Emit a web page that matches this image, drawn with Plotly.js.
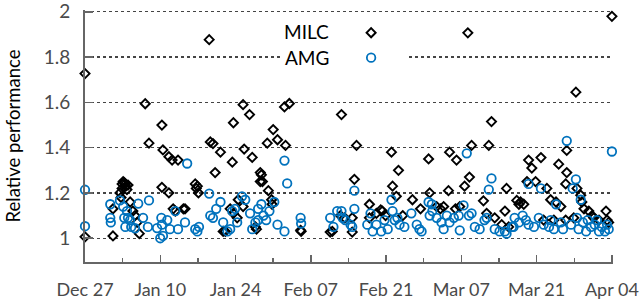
<!DOCTYPE html>
<html>
<head>
<meta charset="utf-8">
<script src="https://cdn.plot.ly/plotly-3.0.1.min.js"></script>
<style>html,body{margin:0;padding:0;background:#fff;}#chart{width:640px;height:299px;}</style>
</head>
<body>
<div id="chart"></div>
<script>
// Days since Dec 27 and relative performance values
var milcDays = [0.0,0.0,5.2,5.2,6.5,6.7,6.9,7.1,7.3,7.5,7.6,8.0,7.8,6.9,8.4,9.3,9.7,10.1,8.9,11.2,11.9,14.3,14.5,14.3,15.6,15.6,16.2,17.3,16.4,16.8,18.3,18.6,20.5,20.9,21.1,20.7,23.1,23.3,23.8,25.2,24.2,27.6,29.4,30.6,29.6,31.1,27.4,27.0,27.6,28.3,28.5,29.4,25.7,26.1,32.6,32.6,31.7,31.9,33.9,35.0,35.8,37.3,37.1,38.0,32.8,33.0,34.1,34.7,34.8,40.1,40.2,45.6,46.0,47.7,47.5,48.3,50.5,50.1,49.7,49.7,52.9,52.9,54.2,55.0,55.3,55.9,57.0,58.3,57.2,57.9,59.1,60.9,62.4,63.9,64.1,65.4,66.1,66.7,67.6,67.8,69.1,68.9,69.7,70.6,71.5,71.2,71.9,75.1,75.6,74.1,74.7,76.2,78.1,78.4,77.5,78.8,80.3,80.7,81.0,81.6,82.5,83.1,84.8,82.2,83.8,85.9,86.6,87.6,88.5,88.1,89.6,89.6,89.4,91.3,91.5,92.2,92.4,92.8,93.7,94.3,96.9,98.0,85.3,87.2,89.4,90.9,94.6,95.6,97.1,97.4];
var milcVals = [1.727,1.006,1.13,1.01,1.20,1.18,1.24,1.25,1.245,1.24,1.23,1.235,1.215,1.22,1.16,1.10,1.07,1.02,1.12,1.594,1.42,1.50,1.39,1.225,1.20,1.36,1.345,1.345,1.13,1.12,1.13,1.13,1.24,1.23,1.20,1.22,1.877,1.425,1.418,1.38,1.29,1.51,1.59,1.546,1.394,1.357,1.336,1.13,1.11,1.09,1.17,1.14,1.03,1.03,1.29,1.25,1.05,1.04,1.42,1.48,1.435,1.41,1.58,1.595,1.28,1.25,1.21,1.17,1.15,1.035,1.03,1.027,1.03,1.546,1.10,1.09,1.41,1.26,1.027,1.09,1.15,1.09,1.11,1.125,1.12,1.10,1.38,1.30,1.23,1.185,1.10,1.17,1.13,1.35,1.20,1.14,1.13,1.14,1.21,1.38,1.345,1.13,1.14,1.23,1.27,1.907,1.41,1.41,1.515,1.165,1.11,1.09,1.12,1.22,1.06,1.05,1.167,1.15,1.16,1.15,1.345,1.31,1.356,1.25,1.25,1.22,1.17,1.16,1.14,1.327,1.388,1.29,1.24,1.645,1.22,1.19,1.16,1.13,1.12,1.10,1.12,1.98,1.08,1.08,1.08,1.09,1.09,1.08,1.08,1.07];
var amgDays = [0.0,0.0,4.7,4.7,4.8,6.5,7.1,7.3,7.5,8.0,7.8,8.4,8.6,9.9,9.3,10.8,11.7,11.9,13.4,14.0,14.5,14.2,14.3,15.3,15.8,16.8,17.3,18.6,19.0,20.5,20.9,21.2,23.1,23.3,23.8,24.4,25.2,25.7,26.5,27.0,27.4,27.9,28.3,29.2,29.8,30.7,31.1,32.2,32.2,31.7,32.8,33.2,33.7,34.3,35.2,35.8,37.1,37.1,37.6,40.1,40.2,45.6,46.2,46.9,47.9,47.7,48.4,49.4,49.7,50.1,50.1,52.5,53.1,53.5,54.2,55.1,55.7,56.3,57.0,57.2,57.6,58.1,58.5,59.4,60.7,61.7,62.2,62.6,63.9,64.1,64.5,64.6,65.4,66.3,66.7,67.3,67.8,68.6,69.5,69.7,70.4,71.0,71.4,71.9,72.5,73.4,74.3,74.7,75.1,75.6,76.2,77.1,78.1,78.4,79.4,79.9,79.7,80.7,81.4,82.0,82.5,82.5,83.5,84.4,84.8,85.3,86.3,86.6,87.2,87.6,88.5,88.9,89.6,91.3,90.7,92.2,91.5,91.8,92.6,93.2,94.1,94.8,95.6,96.1,96.7,97.1,97.4,98.0,95.2,90.4,93.5];
var amgVals = [1.214,1.053,1.15,1.09,1.07,1.167,1.14,1.09,1.05,1.09,1.12,1.08,1.05,1.153,1.044,1.09,1.05,1.167,1.045,1.0,1.01,1.09,1.06,1.08,1.04,1.12,1.04,1.07,1.33,1.04,1.03,1.05,1.197,1.10,1.09,1.13,1.16,1.07,1.03,1.04,1.12,1.13,1.07,1.185,1.17,1.11,1.04,1.13,1.08,1.07,1.15,1.10,1.08,1.12,1.16,1.06,1.03,1.343,1.242,1.09,1.065,1.09,1.05,1.12,1.09,1.12,1.08,1.06,1.05,1.21,1.13,1.06,1.11,1.03,1.06,1.03,1.08,1.04,1.17,1.12,1.08,1.09,1.06,1.05,1.11,1.06,1.04,1.03,1.16,1.10,1.15,1.12,1.09,1.07,1.04,1.10,1.07,1.09,1.10,1.035,1.145,1.375,1.10,1.11,1.05,1.04,1.08,1.09,1.215,1.264,1.04,1.03,1.03,1.02,1.05,1.09,1.05,1.07,1.10,1.08,1.24,1.06,1.05,1.09,1.22,1.06,1.05,1.08,1.04,1.15,1.07,1.04,1.43,1.26,1.22,1.17,1.09,1.04,1.07,1.03,1.05,1.06,1.03,1.05,1.03,1.06,1.04,1.383,1.08,1.06,1.08];

var xTickVals = [0,14,28,42,56,70,84,98];
var xTickText = ['Dec 27','Jan 10','Jan 24','Feb 07','Feb 21','Mar 07','Mar 21','Apr 04'];
var yTickVals = [1,1.2,1.4,1.6,1.8,2];
var yTickText = ['1','1.2','1.4','1.6','1.8','2'];
var seriesNames = ['MILC','AMG'];

var FONT = 'Lato, "Open Sans", sans-serif';
var AXC = '#666666';

var traces = [
  {x: milcDays, y: milcVals, type:'scatter', mode:'markers', name:' ', cliponaxis:false, legend:'legend',
   marker:{symbol:'diamond-open', size:7, color:'#000000', line:{width:1.9, color:'#000000'}}},
  {x: amgDays, y: amgVals, type:'scatter', mode:'markers', name:' ', cliponaxis:false, legend:'legend2',
   marker:{symbol:'circle-open', size:8.5, color:'#0072BD', line:{width:1.8, color:'#0072BD'}}}
];

var legendBase = {xanchor:'left', yanchor:'top', bgcolor:'rgba(0,0,0,0)', borderwidth:0,
                  font:{family:FONT, size:18, color:'#000'}, itemwidth:30};

var layout = {
  width:640, height:299,
  margin:{l:85, r:27, t:10, b:37},
  paper_bgcolor:'#ffffff', plot_bgcolor:'#ffffff',
  font:{family:FONT, size:16, color:'#444'},
  showlegend:true,
  legend: Object.assign({}, legendBase, {x:0.504, y:0.982}),
  legend2: Object.assign({}, legendBase, {x:0.504, y:0.883}),
  xaxis:{range:[0,98.2], tickmode:'array', tickvals:xTickVals, ticktext:xTickText,
         showgrid:false, zeroline:false, showline:true, linecolor:AXC, linewidth:2,
         ticks:'inside', ticklen:7, tickwidth:1.5, tickcolor:AXC, ticklabelstandoff:10,
         ticklabeloverflow:'allow',
         tickfont:{family:FONT, size:18, color:'#4a4a4a'},
         minor:{tickmode:'linear', tick0:0, dtick:7, ticks:'inside', ticklen:4, tickwidth:1.5, tickcolor:AXC, showgrid:false}},
  yaxis:{range:[0.895,2.008], tickmode:'array', tickvals:yTickVals, ticktext:yTickText,
         showgrid:true, griddash:'dot', gridcolor:'#444', gridwidth:1.2,
         zeroline:false, showline:true, linecolor:AXC, linewidth:2,
         ticks:'inside', ticklen:8, tickwidth:1.5, tickcolor:AXC, ticklabelstandoff:9,
         ticklabeloverflow:'allow',
         tickfont:{family:FONT, size:19, color:'#4a4a4a'},
         title:{text:'Relative performance', font:{family:FONT, size:18.5, color:'#000'}, standoff:18}},
  shapes:[{type:'rect', xref:'paper', yref:'paper', x0:0.375, x1:0.61, y0:0.76, y1:0.955,
           fillcolor:'#ffffff', line:{width:0}, layer:'above'}],
  annotations:[
    {xref:'paper', yref:'paper', x:0.465, y:0.913, xanchor:'right', yanchor:'middle', showarrow:false,
     text:seriesNames[0], font:{family:FONT, size:19, color:'#000'}},
    {xref:'paper', yref:'paper', x:0.465, y:0.813, xanchor:'right', yanchor:'middle', showarrow:false,
     text:seriesNames[1], font:{family:FONT, size:19, color:'#000'}}
  ]
};

Plotly.newPlot('chart', traces, layout, {displayModeBar:false, staticPlot:true});
</script>
</body>
</html>
